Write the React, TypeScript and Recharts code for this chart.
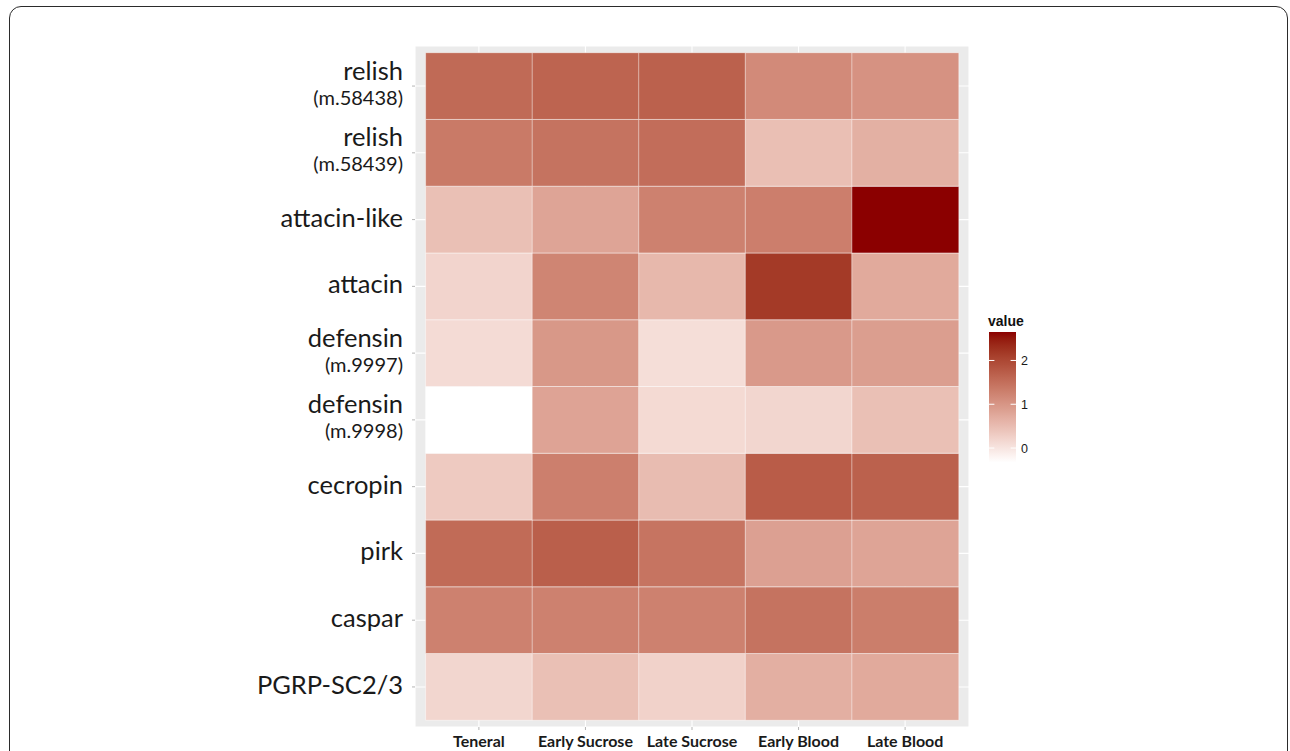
import React from 'react';
import { BarChart, Bar, XAxis, YAxis, CartesianGrid, Cell } from 'recharts';

// ---------- data ----------
const conditions = ['Teneral', 'Early Sucrose', 'Late Sucrose', 'Early Blood', 'Late Blood'];
const geneNames = ['relish', 'relish', 'attacin-like', 'attacin', 'defensin', 'defensin', 'cecropin', 'pirk', 'caspar', 'PGRP-SC2/3'];
const geneIds = ['(m.58438)', '(m.58439)', '', '', '(m.9997)', '(m.9998)', '', '', '', ''];

// values listed top-to-bottom in gene order
const teneral = [1.57, 1.36, 0.46, 0.2, 0.11, -0.33, 0.33, 1.55, 1.27, 0.18];
const earlySucrose = [1.64, 1.45, 0.81, 1.22, 0.97, 0.82, 1.29, 1.71, 1.26, 0.46];
const lateSucrose = [1.68, 1.52, 1.27, 0.56, 0.08, 0.13, 0.51, 1.43, 1.27, 0.23];
const earlyBlood = [1.15, 0.47, 1.3, 2.17, 0.95, 0.18, 1.74, 0.86, 1.45, 0.67];
const lateBlood = [1.04, 0.66, 2.65, 0.74, 0.89, 0.46, 1.68, 0.81, 1.31, 0.74];
const seriesByCondition = [teneral, earlySucrose, lateSucrose, earlyBlood, lateBlood];

const legendTicks = [0, 1, 2];
const legendTitle = 'value';

// ---------- colour scale (Lab interpolation like ggplot2) ----------
const LOW = '#FFFFFF';
const HIGH = '#8B0000';

const toLin = (c: number) => {
  const v = c / 255;
  return v <= 0.04045 ? v / 12.92 : Math.pow((v + 0.055) / 1.055, 2.4);
};
const fromLin = (c: number) => {
  const v = c <= 0.0031308 ? 12.92 * c : 1.055 * Math.pow(c, 1 / 2.4) - 0.055;
  return Math.round(Math.max(0, Math.min(1, v)) * 255);
};
const Xn = 0.95047, Yn = 1.0, Zn = 1.08883;
const hexToRgb = (h: string) => [parseInt(h.slice(1, 3), 16), parseInt(h.slice(3, 5), 16), parseInt(h.slice(5, 7), 16)];
const rgbToLab = (rgb: number[]) => {
  const [R, G, B] = rgb.map(toLin);
  const X = (0.4124 * R + 0.3576 * G + 0.1805 * B) / Xn;
  const Y = (0.2126 * R + 0.7152 * G + 0.0722 * B) / Yn;
  const Z = (0.0193 * R + 0.1192 * G + 0.9505 * B) / Zn;
  const f = (t: number) => (t > 0.008856 ? Math.cbrt(t) : 7.787 * t + 16 / 116);
  const fx = f(X), fy = f(Y), fz = f(Z);
  return [116 * fy - 16, 500 * (fx - fy), 200 * (fy - fz)];
};
const labToHex = (lab: number[]) => {
  const [L, a, b] = lab;
  const fy = (L + 16) / 116;
  const fx = fy + a / 500;
  const fz = fy - b / 200;
  const inv = (t: number) => (t * t * t > 0.008856 ? t * t * t : (t - 16 / 116) / 7.787);
  const X = inv(fx) * Xn, Y = inv(fy) * Yn, Z = inv(fz) * Zn;
  const R = 3.2406 * X - 1.5372 * Y - 0.4986 * Z;
  const G = -0.9689 * X + 1.8758 * Y + 0.0415 * Z;
  const B = 0.0557 * X - 0.204 * Y + 1.057 * Z;
  const hx = (n: number) => fromLin(n).toString(16).padStart(2, '0');
  return '#' + hx(R) + hx(G) + hx(B);
};
const lowLab = rgbToLab(hexToRgb(LOW));
const highLab = rgbToLab(hexToRgb(HIGH));
const allValues = seriesByCondition.flat();
const vMin = Math.min(...allValues);
const vMax = Math.max(...allValues);
const colorScale = (v: number) => {
  const t = (v - vMin) / (vMax - vMin);
  return labToHex(lowLab.map((l, i) => l + t * (highLab[i] - l)));
};

// ---------- chart table ----------
const nGenes = geneNames.length;
const tableData = conditions.map((c) => {
  const row: Record<string, any> = { condition: c };
  geneNames.forEach((_, gi) => {
    row['g' + gi] = 1;
  });
  return row;
});
const yTicks = geneNames.map((_, gi) => nGenes - 0.5 - gi);

const FONT = 'Lato, "Open Sans", sans-serif';
const LEG_FONT = '"Liberation Sans", Arial, sans-serif';

const GeneTick = (props: any) => {
  const { x, y, payload } = props;
  const gi = Math.round(nGenes - 0.5 - payload.value);
  const name = geneNames[gi];
  const id = geneIds[gi];
  if (id) {
    return (
      <g>
        <text x={x} y={y} dy={-6.5} textAnchor="end" fontFamily={FONT} fontSize={25.5} fill="#1a1a1a">{name}</text>
        <text x={x} y={y} dy={18.5} textAnchor="end" fontFamily={FONT} fontSize={20} fill="#1a1a1a">{id}</text>
      </g>
    );
  }
  return (
    <text x={x} y={y} dy={7} textAnchor="end" fontFamily={FONT} fontSize={25.5} fill="#1a1a1a">{name}</text>
  );
};

const CondTick = (props: any) => {
  const { x, y, payload } = props;
  return (
    <text x={x} y={y} dy={15} textAnchor="middle" fontFamily={FONT} fontWeight={700} fontSize={16} fill="#1a1a1a">
      {payload.value}
    </text>
  );
};

// legend geometry
const LEG_X = 989;
const LEG_W = 27;
const LEG_TOP = 332;
const LEG_BOTTOM = 462.5;
const legY = (v: number) => LEG_BOTTOM - ((v - vMin) / (vMax - vMin)) * (LEG_BOTTOM - LEG_TOP);
const gradStops = Array.from({ length: 21 }, (_, i) => i / 20);

const ColorLegend = () => (
  <svg width={1290} height={751} style={{ position: 'absolute', left: 0, top: 0, pointerEvents: 'none' }}>
    <defs>
      <linearGradient id="legGrad" x1="0" y1="1" x2="0" y2="0">
        {gradStops.map((s) => (
          <stop key={s} offset={s} stopColor={colorScale(vMin + s * (vMax - vMin))} />
        ))}
      </linearGradient>
    </defs>
    <text x={LEG_X - 1} y={326} fontFamily={LEG_FONT} fontWeight={700} fontSize={14} fill="#111111">
      {legendTitle}
    </text>
    <rect x={LEG_X} y={LEG_TOP} width={LEG_W} height={LEG_BOTTOM - LEG_TOP} fill="url(#legGrad)" />
    {legendTicks.map((t) => (
      <g key={t}>
        <line x1={LEG_X} x2={LEG_X + 5.4} y1={legY(t)} y2={legY(t)} stroke="#fff" strokeWidth={1} />
        <line x1={LEG_X + LEG_W - 5.4} x2={LEG_X + LEG_W} y1={legY(t)} y2={legY(t)} stroke="#fff" strokeWidth={1} />
        <text x={LEG_X + LEG_W + 5} y={legY(t)} dy={4.5} fontFamily={LEG_FONT} fontSize={12.5} fill="#1a1a1a">
          {t}
        </text>
      </g>
    ))}
  </svg>
);

export default function App() {
  return (
    <div style={{ position: 'absolute', left: 0, top: 0, width: 1290, height: 751, background: '#fff', overflow: 'hidden' }}>
      <div
        style={{
          position: 'absolute',
          left: 9,
          top: 6,
          width: 1279,
          height: 820,
          border: '1.5px solid #2b2b2b',
          borderRadius: 12,
          boxSizing: 'border-box',
        }}
      />
      <div style={{ position: 'absolute', left: 0, top: 0 }}>
        <BarChart
          width={1290}
          height={751}
          data={tableData}
          margin={{ top: 46, right: 321, bottom: 0, left: 15 }}
          barCategoryGap={0}
          barGap={0}
        >
          <CartesianGrid fill="#EBEBEB" fillOpacity={1} stroke="#FFFFFF" strokeWidth={1.1} />
          <XAxis
            dataKey="condition"
            type="category"
            padding={{ left: 10.6, right: 10.6 }}
            height={24}
            axisLine={false}
            tickLine={{ stroke: '#b5b5b5' }}
            tickSize={3}
            tickMargin={2}
            tick={<CondTick />}
            interval={0}
          />
          <YAxis
            type="number"
            domain={[-0.1, nGenes + 0.1]}
            ticks={yTicks}
            width={400}
            axisLine={false}
            tickLine={{ stroke: '#b5b5b5' }}
            tickSize={3}
            tickMargin={9}
            tick={<GeneTick />}
            interval={0}
          />
          {geneNames
            .map((_, gi) => gi)
            .reverse()
            .map((gi) => (
              <Bar key={gi} dataKey={'g' + gi} stackId="tiles" isAnimationActive={false}>
                {conditions.map((c, ci) => (
                  <Cell key={c} fill={colorScale(seriesByCondition[ci][gi])} stroke="#ffffff" strokeOpacity={0.45} strokeWidth={1} />
                ))}
              </Bar>
            ))}
        </BarChart>
      </div>
      <ColorLegend />
    </div>
  );
}
